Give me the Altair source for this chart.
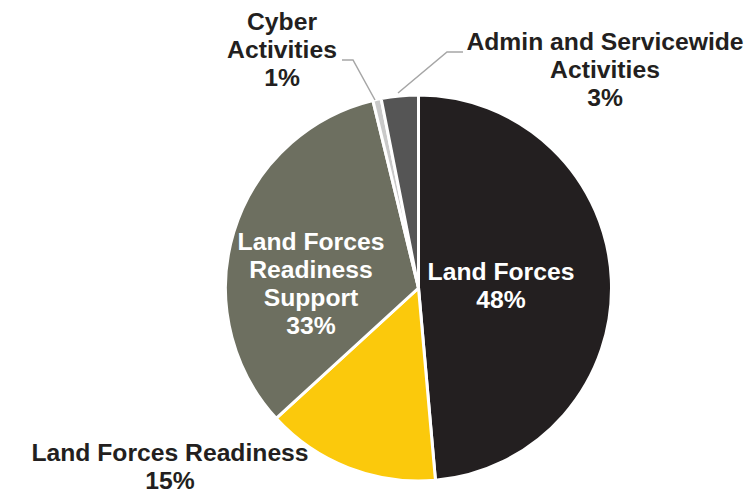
import altair as alt
import pandas as pd

# Data (shares of total, percent)
categories = ["Land Forces", "Land Forces Readiness", "Land Forces Readiness Support",
              "Cyber Activities", "Admin and Servicewide Activities"]
shares = [48.6, 14.6, 33.0, 0.7, 3.1]
pct_labels = ["48%", "15%", "33%", "1%", "3%"]
label_text = ["Land Forces\n48%", "Land Forces Readiness\n15%",
              "Land Forces\nReadiness\nSupport\n33%", "Cyber\nActivities\n1%",
              "Admin and Servicewide\nActivities\n3%"]
colors = ["#231f20", "#fbc90c", "#6d6f60", "#c9c9c9", "#555555"]
text_colors = ["#ffffff", "#231f20", "#ffffff", "#231f20", "#231f20"]

# layout (pixels inside the chart); y is the first text line
CX, CY, R = 410.5, 280, 193
label_x = [493, 162, 303, 274, 597]
label_y = [265, 446, 235, 15, 35]

pie_df = pd.DataFrame({"name": categories, "value": shares, "idx": range(len(categories))})
lab_df = pd.DataFrame({"name": categories, "label": label_text, "lx": label_x, "ly": label_y,
                       "tc": text_colors})

# leader lines (Cyber, Admin)
lead_df = pd.DataFrame({
    "g": ["c", "c", "c", "a", "a", "a"],
    "o": [0, 1, 2, 0, 1, 2],
    "px": [367, 345, 334, 390, 439, 455],
    "py": [92, 52, 52, 85, 44, 44],
})

pie = alt.Chart(pie_df).mark_arc(outerRadius=R, stroke="white", strokeWidth=3).encode(
    theta=alt.Theta("value:Q", stack=True),
    order=alt.Order("idx:Q"),
    color=alt.Color("name:N", scale=alt.Scale(domain=categories, range=colors), legend=None),
    x=alt.value(CX),
    y=alt.value(CY),
)

leaders = alt.Chart(lead_df).mark_line(color="#a6a6a6", strokeWidth=1.5).encode(
    x=alt.X("px:Q", scale=None, axis=None),
    y=alt.Y("py:Q", scale=None, axis=None),
    detail="g:N",
    order="o:Q",
)

labels = alt.Chart(lab_df).mark_text(
    font="Liberation Sans", fontWeight="bold", fontSize=24.7, lineHeight=28,
    lineBreak="\n", align="center", baseline="middle",
).encode(
    x=alt.X("lx:Q", scale=None, axis=None),
    y=alt.Y("ly:Q", scale=None, axis=None),
    text="label:N",
    color=alt.Color("tc:N", scale=None, legend=None),
)

chart = alt.layer(pie, leaders, labels).properties(
    width=736, height=486, padding=0,
    autosize=alt.AutoSizeParams(type="fit", contains="padding"),
).configure_view(stroke=None)

chart.save("out.html", embed_options={"renderer": "svg", "actions": False})
